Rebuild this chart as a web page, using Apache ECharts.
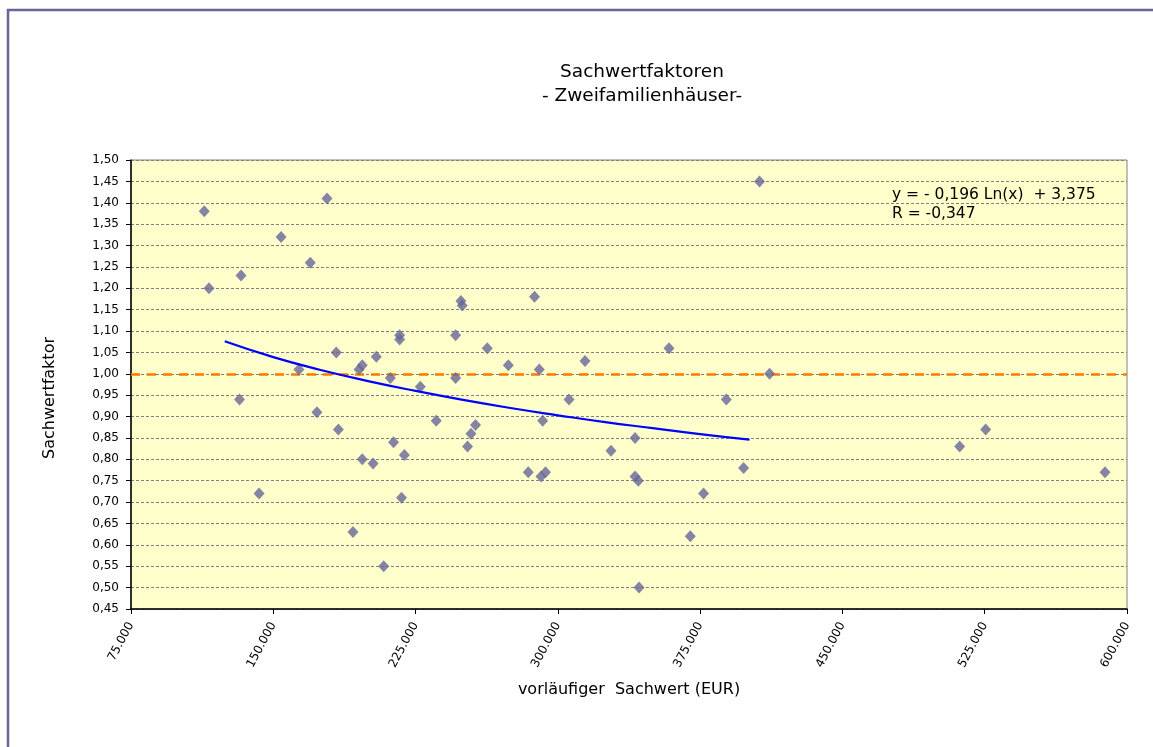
<!DOCTYPE html>
<html>
<head>
<meta charset="utf-8">
<script src="https://cdn.jsdelivr.net/npm/echarts@6/dist/echarts.min.js"></script>
<style>
html,body{margin:0;padding:0;background:#fff;}
#chart{width:1153px;height:747px;}
</style>
</head>
<body>
<div id="chart"></div>
<script>
// Data
const sachwertX = [113600,116100,133000,132200,142500,154100,163500,169500,173000,178300,
  183200,184300,192000,195200,196900,196900,202600,204300,208200,211700,
  213400,216600,216600,217600,219100,227500,235900,246100,246100,248900,
  249600,252400,254200,256600,262800,273900,284400,287700,290200,291100,
  293500,292000,305900,314300,328000,340700,340700,342400,342800,358600,
  369800,376800,388800,397900,406300,411600,511800,525500,588400];
const faktorY = [1.38,1.20,1.23,0.94,0.72,1.32,1.01,1.26,0.91,1.41,
  1.05,0.87,0.63,1.01,1.02,0.80,0.79,1.04,0.55,0.99,
  0.84,1.09,1.08,0.71,0.81,0.97,0.89,1.09,0.99,1.17,
  1.16,0.83,0.86,0.88,1.06,1.02,0.77,1.18,1.01,0.76,
  0.77,0.89,0.94,1.03,0.82,0.85,0.76,0.75,0.50,1.06,
  0.62,0.72,0.94,0.78,1.45,1.00,0.83,0.87,0.77];
const trendX = [124400,150000,175000,200000,225000,250000,275000,300000,325000,350000,375000,401000];
const trendY = [1.076,1.039,1.009,0.983,0.960,0.939,0.920,0.903,0.887,0.873,0.859,0.846];
const referenceY = 1.00;
const xTicks = {min:75000, max:600000, step:75000};
const yTicks = {min:0.45, max:1.50, step:0.05};
const titleLines = ['Sachwertfaktoren','- Zweifamilienhäuser-'];
const equationLines = ['y = - 0,196 Ln(x)  + 3,375','R = -0,347'];
const xName = 'vorläufiger  Sachwert (EUR)';
const yName = 'Sachwertfaktor';

const FONT = 'DejaVu Sans';
const points = sachwertX.map((x,i)=>[x,faktorY[i]]);
const trend = trendX.map((x,i)=>[x,trendY[i]]);

const chart = echarts.init(document.getElementById('chart'), null, {renderer:'canvas'});
chart.setOption({
  animation:false,
  backgroundColor:'#ffffff',
  textStyle:{fontFamily:FONT},
  grid:{left:131,right:26,top:160,bottom:138,show:true,backgroundColor:'#FFFFCC',borderColor:'#808080',borderWidth:1},
  graphic:[
    {type:'line',shape:{x1:7,y1:10,x2:1153,y2:10},style:{stroke:'#666699',lineWidth:2.5},silent:true},
    {type:'line',shape:{x1:8,y1:9,x2:8,y2:747},style:{stroke:'#666699',lineWidth:2.5},silent:true},
    {type:'text',x:642,y:60,style:{text:titleLines.join('\n'),font:'18.5px "DejaVu Sans"',fill:'#000',textAlign:'center',lineHeight:24}},
    {type:'text',x:892,y:185,style:{text:equationLines.join('\n'),font:'15.5px "DejaVu Sans"',fill:'#000',lineHeight:19}},
    {type:'text',x:50,y:398,rotation:Math.PI/2,style:{text:yName,font:'16px "DejaVu Sans"',fill:'#000',textAlign:'center',textVerticalAlign:'middle'}}
  ],
  xAxis:{
    type:'value',min:xTicks.min,max:xTicks.max,interval:xTicks.step,
    name:xName,nameLocation:'middle',nameGap:73,
    nameTextStyle:{fontFamily:FONT,fontSize:16,color:'#000'},
    axisLine:{lineStyle:{color:'#000',width:1.5}},
    axisTick:{show:true,length:5,lineStyle:{color:'#000'}},
    splitLine:{show:false},
    axisLabel:{rotate:62,margin:14,fontFamily:FONT,fontSize:12,color:'#000',
      formatter:v=>String(Math.round(v)).replace(/\B(?=(\d{3})+(?!\d))/g,'.')}
  },
  yAxis:{
    type:'value',min:yTicks.min,max:yTicks.max,interval:yTicks.step,
    axisLine:{show:true,lineStyle:{color:'#000',width:1.5}},
    axisTick:{show:true,length:5,lineStyle:{color:'#000'}},
    splitLine:{show:true,lineStyle:{color:'#808080',type:[3,2],width:1}},
    axisLabel:{margin:12,fontFamily:FONT,fontSize:12,color:'#000',
      formatter:v=>v.toFixed(2).replace('.',',')}
  },
  series:[
    {
      type:'scatter',data:points,symbol:'diamond',symbolSize:[11,12],
      itemStyle:{color:'#666699'},z:3,
      markLine:{silent:true,symbol:'none',label:{show:false},
        lineStyle:{color:'#FF7A00',type:[9,7],width:2.5},
        data:[{yAxis:referenceY}],z:2}
    },
    {
      type:'line',data:trend,smooth:true,showSymbol:false,symbol:'none',
      lineStyle:{color:'#0000FF',width:2.2},z:4
    }
  ]
});
</script>
</body>
</html>
